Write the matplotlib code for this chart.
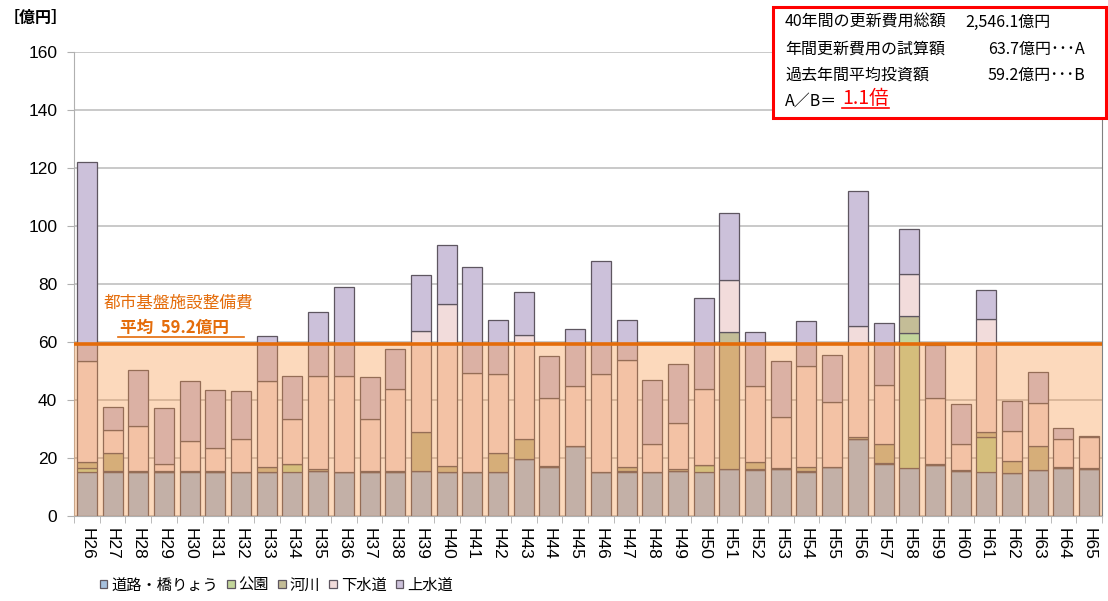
import numpy as np
import matplotlib
matplotlib.use("Agg")
import matplotlib.pyplot as plt
from matplotlib.patches import Rectangle
from matplotlib.lines import Line2D
from matplotlib.font_manager import FontProperties

W, H = 1108, 601
JP = ['Noto Sans CJK JP', 'DejaVu Sans']
plt.rcParams['font.family'] = ['Liberation Sans', 'Noto Sans CJK JP', 'DejaVu Sans']

# 年度ごとの更新費用（億円）
years = ['H%d' % n for n in range(26, 66)]
road = [15.1, 15.1, 15.1, 15.1, 15.1, 15.1, 15.1, 15.1, 15.1, 15.6,
        15.1, 15.1, 15.1, 15.4, 15.1, 15.1, 15.1, 19.8, 16.9, 24.0,
        15.1, 15.1, 15.1, 15.6, 15.1, 16.2, 15.8, 16.1, 15.1, 16.8,
        26.4, 17.9, 16.7, 17.5, 15.4, 15.2, 15.0, 15.8, 16.4, 16.1]
park = [1.3, 0.3, 0.0, 0.0, 0.3, 0.0, 0.0, 0.0, 2.8, 0.0,
        0.0, 0.0, 0.0, 0.0, 0.0, 0.0, 0.0, 0.0, 0.0, 0.0,
        0.0, 0.4, 0.0, 0.0, 2.6, 0.0, 0.5, 0.0, 0.3, 0.0,
        0.0, 0.5, 46.3, 0.0, 0.0, 11.9, 0.0, 0.0, 0.0, 0.0]
river = [2.1, 6.4, 0.3, 0.3, 0.0, 0.3, 0.0, 1.8, 0.0, 0.5,
         0.0, 0.4, 0.3, 13.5, 2.3, 0.0, 6.6, 6.8, 0.3, 0.0,
         0.0, 1.5, 0.0, 0.5, 0.0, 47.3, 2.3, 0.6, 1.5, 0.0,
         0.9, 6.3, 6.0, 0.6, 0.4, 1.9, 4.0, 8.4, 0.4, 0.5]
sewer = [35.0, 7.8, 15.6, 2.7, 10.5, 7.9, 11.5, 29.5, 15.4, 32.3,
         33.3, 18.1, 28.3, 34.9, 55.8, 34.1, 27.1, 35.7, 23.6, 21.0,
         33.7, 36.8, 9.9, 15.8, 26.0, 18.0, 26.1, 17.4, 34.7, 22.6,
         38.3, 20.6, 14.5, 22.7, 9.2, 38.9, 10.3, 14.7, 9.9, 10.7]
water = [68.6, 8.0, 19.3, 19.2, 20.6, 20.1, 16.4, 15.7, 14.9, 21.8,
         30.6, 14.4, 13.9, 19.3, 20.1, 36.5, 18.8, 15.0, 14.5, 19.4,
         39.2, 13.8, 22.0, 20.4, 31.5, 23.0, 18.8, 19.4, 15.6, 16.1,
         46.6, 21.2, 15.6, 18.1, 13.5, 10.0, 10.2, 10.8, 3.7, 0.3]
names = ['道路・橋りょう', '公園', '河川', '下水道', '上水道']
colors = ['#a6c0de', '#c3d69b', '#c4bd97', '#f2dcdb', '#ccc1da']
avg = 59.2


def fx(px):
    return px / W


def fy(py):
    return 1 - py / H


fig = plt.figure(figsize=(W / 100, H / 100), dpi=100)
ax = fig.add_axes([fx(74), fy(516), fx(1102) - fx(74), fy(52) - fy(516)])

x = np.arange(len(years))
bottom = np.zeros(len(years))
handles = []
for vals, col, name in zip([road, park, river, sewer, water], colors, names):
    b = ax.bar(x, vals, 0.78, bottom=bottom, color=col, edgecolor='#5e5660',
               linewidth=0.9, zorder=2, label=name)
    handles.append(b)
    bottom += np.array(vals)

# 平均投資額以下の帯と平均線
ax.axhspan(0, avg, color='#f79646', alpha=0.36, lw=0, zorder=3)
ax.axhline(avg, color='#e46c0a', lw=2.6, zorder=4)

ax.set_xlim(-0.5, len(years) - 0.5)
ax.set_ylim(0, 160)
ax.set_yticks(range(0, 161, 20))
ax.yaxis.grid(True, color='#c0c0c0', lw=1.2, zorder=0)
ax.set_axisbelow(True)
ax.set_xticks(x)
ax.set_xticklabels(years, rotation=-90, fontsize=12.5)
ax.set_xticks(np.arange(-0.5, len(years), 1), minor=True)
ax.tick_params(axis='x', which='major', length=0, pad=9)
ax.tick_params(axis='x', which='minor', length=5, color='#b0b0b0')
ax.tick_params(axis='y', length=5, color='#b0b0b0', labelsize=12.5, pad=7)
ax.spines['top'].set_visible(False)
ax.spines['left'].set_color('#b0b0b0')
ax.spines['bottom'].set_color('#b0b0b0')
ax.spines['right'].set_color('#808080')

fig.text(fx(4), fy(18), '［億円］', family=JP, fontsize=11.5, fontweight='bold',
         va='center', ha='left')

# 平均の注記
orange = '#e46c0a'
fig.text(fx(104), fy(303), '都市基盤施設整備費', family=JP, fontsize=12,
         color=orange, va='center')
fig.text(fx(120), fy(328), '平均  59.2億円', family=JP, fontsize=12,
         color=orange, va='center', fontweight='bold')
fig.add_artist(Line2D([fx(118), fx(244)], [fy(337), fy(337)], color=orange,
                      lw=1.2, transform=fig.transFigure))

# 右上の試算結果
fig.add_artist(Rectangle((fx(773), fy(118)), fx(1106) - fx(773), fy(7) - fy(118),
                         transform=fig.transFigure, facecolor='white',
                         edgecolor='#ff0000', lw=2.2, zorder=5))
rows = [('40年間の更新費用総額', '2,546.1億円', 965, 22),
        ('年間更新費用の試算額', '63.7億円･･･A', 988, 49),
        ('過去年間平均投資額', '59.2億円･･･B', 988, 75)]
for left, right, xr, yy in rows:
    fig.text(fx(785), fy(yy), left, family=JP, fontsize=11.5, va='center', zorder=6)
    fig.text(fx(xr), fy(yy), right, family=JP, fontsize=11.5, va='center', zorder=6)
fig.text(fx(785), fy(101), 'A／B＝', family=JP, fontsize=11.5, va='center', zorder=6)
fig.text(fx(842), fy(99), '1.1倍', family=JP, fontsize=14, va='center',
         color='#ff0000', zorder=6)
fig.add_artist(Line2D([fx(842), fx(889)], [fy(108), fy(108)], color='#ff0000',
                      lw=1.2, transform=fig.transFigure, zorder=6))

fig.legend(handles, names, loc='center left', bbox_to_anchor=(fx(86), fy(585)),
           ncol=5, frameon=False, handlelength=0.5, handleheight=0.5,
           handletextpad=0.25, columnspacing=0.6,
           prop=FontProperties(family=JP, size=11))

fig.savefig('out.png', dpi=100)
